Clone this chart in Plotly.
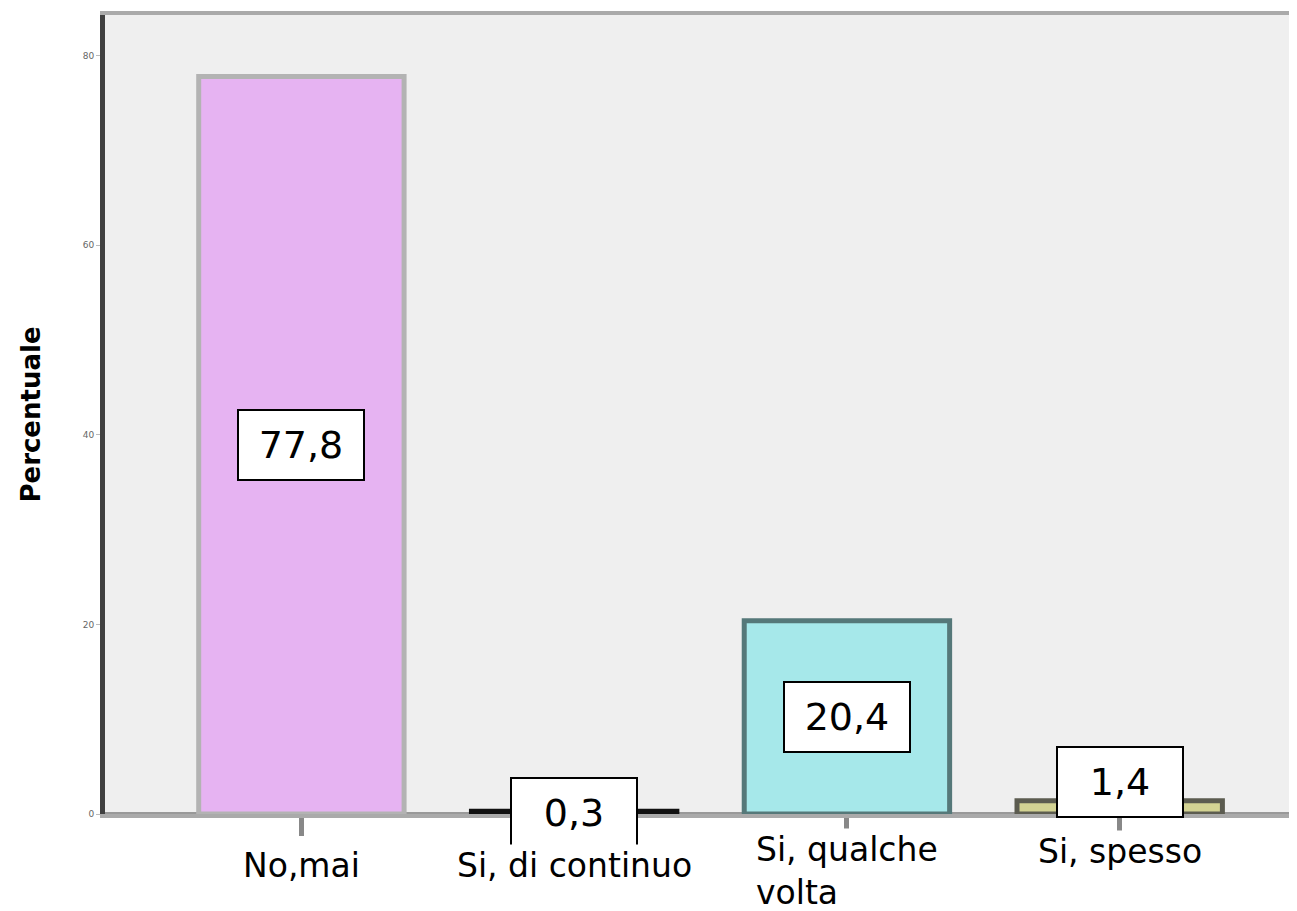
import plotly.graph_objects as go

# dati
categorie = ["No,mai", "Si, di continuo", "Si, qualche<br>volta", "Si, spesso"]
percentuali = [77.8, 0.3, 20.4, 1.4]
etichette = ["77,8", "0,3", "20,4", "1,4"]
tick_y = [0, 20, 40, 60, 80]

colori = ["#e6b3f2", "#111111", "#a6e8ea", "#d3d393"]
bordi = ["#b3b3b3", "#111111", "#557879", "#5c5c50"]

x = list(range(len(categorie)))

fig = go.Figure()
fig.add_trace(go.Bar(
    x=x, y=percentuali, width=0.753,
    marker=dict(color=colori, line=dict(color=bordi, width=5)),
    hoverinfo="skip",
))

# etichette dei valori
spost = [0, 0, 0, 25]
for i, v in enumerate(percentuali):
    fig.add_annotation(
        x=i, y=v / 2, text=etichette[i], showarrow=False,
        font=dict(family="DejaVu Sans", size=38, color="black"),
        bgcolor="white", bordercolor="black", borderwidth=2,
        width=122, height=66, yshift=spost[i],
    )

# etichette asse x
yshift_x = [0, 0, 16, 14]
for i, c in enumerate(categorie):
    fig.add_annotation(
        x=i, y=0, yref="y", text=c, showarrow=False,
        xanchor="center", yanchor="top", align="left",
        font=dict(family="DejaVu Sans", size=33, color="black"),
        bgcolor="white", yshift=-30 + yshift_x[i],
    )

# la pagina ha 8px di margine: la figura e' un po' piu' piccola
fig.update_layout(
    width=1289, height=903,
    margin=dict(l=97, r=0, t=7, b=97),
    paper_bgcolor="white", plot_bgcolor="#efefef",
    showlegend=False,
    xaxis=dict(
        range=[-0.72, 3.65], tickvals=x, showticklabels=False,
        ticks="outside", ticklen=18, tickwidth=5, tickcolor="#888888",
        showgrid=False, zeroline=False,
        showline=True, linecolor="#aaaaaa", linewidth=4, mirror=True,
    ),
    yaxis=dict(
        range=[0, 84.3], tickvals=tick_y, ticktext=[str(t) for t in tick_y],
        tickfont=dict(size=9, color="#666666"),
        ticks="outside", ticklen=4, tickcolor="#bbbbbb",
        showgrid=False, zeroline=True, zerolinecolor="#999999", zerolinewidth=5,
        showline=True, linecolor="#404040", linewidth=5,
        title=dict(text="<b>Percentuale</b>",
                   font=dict(family="DejaVu Sans", size=26, color="black"),
                   standoff=36),
    ),
    font=dict(family="DejaVu Sans"),
)

fig.write_html("out.html")
